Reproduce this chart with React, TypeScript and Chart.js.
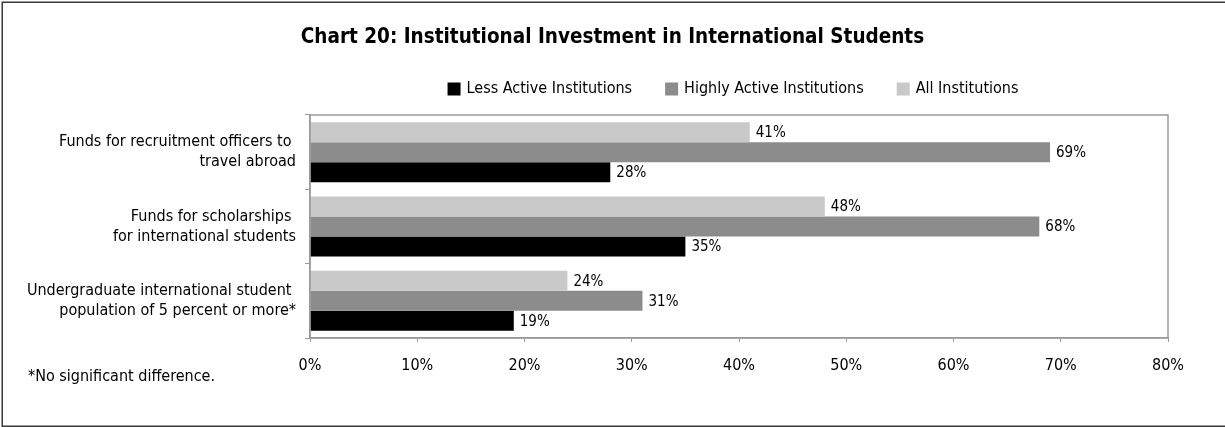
import React, { useEffect, useRef } from "react";
import { Chart, registerables } from "chart.js";

Chart.register(...registerables);

const FONT = "'Liberation Sans Narrow', 'DejaVu Sans Condensed', 'Arial Narrow', sans-serif";

const titleText = "Chart 20: Institutional Investment in International Students";
const footnote = "*No significant difference.";

const categories: string[][] = [
  ["Funds for recruitment officers to ", "travel abroad"],
  ["Funds for scholarships ", "for international students"],
  ["Undergraduate international student ", "population of 5 percent or more*"],
];

const seriesLabels = ["All Institutions", "Highly Active Institutions", "Less Active Institutions"];
const allInstitutions = [41, 48, 24];
const highlyActive = [69, 68, 31];
const lessActive = [28, 35, 19];
const seriesColors = ["#c9c9c9", "#8c8c8c", "#000000"];

const xMin = 0;
const xMax = 80;
const xStep = 10;

const frame = {
  id: "frame",
  beforeDraw(chart: any) {
    const { ctx, width, height } = chart;
    ctx.save();
    ctx.fillStyle = "#ffffff";
    ctx.fillRect(0, 0, width, height);
    ctx.restore();
  },
  afterDraw(chart: any) {
    const { ctx, width, height, chartArea } = chart;
    ctx.save();
    // outer border (right edge off canvas)
    ctx.strokeStyle = "#3a3a3a";
    ctx.lineWidth = 1.5;
    ctx.strokeRect(2.25, 2.25, width + 10, height - 3);
    // plot area border
    ctx.strokeStyle = "#9a9a9a";
    ctx.lineWidth = 1.5;
    ctx.strokeRect(chartArea.left, chartArea.top, chartArea.right - chartArea.left, chartArea.bottom - chartArea.top);
    // title, centered on the page
    ctx.fillStyle = "#000";
    ctx.font = `bold 20.5px ${FONT}`;
    ctx.textAlign = "center";
    ctx.textBaseline = "alphabetic";
    ctx.fillText(titleText, width / 2, 43);
    // footnote
    ctx.font = `16px ${FONT}`;
    ctx.textAlign = "left";
    ctx.textBaseline = "middle";
    ctx.fillText(footnote, 28, 377);
    // legend (reverse dataset order), centered over the plot area
    const items = chart.data.datasets.map((d: any) => ({ label: d.label, color: d.backgroundColor })).reverse();
    const box = 13;
    const gapText = 6;
    const gapItem = 33;
    ctx.font = `16px ${FONT}`;
    const widths = items.map((it: any) => box + gapText + ctx.measureText(it.label).width);
    const total = widths.reduce((a: number, b: number) => a + b, 0) + gapItem * (items.length - 1);
    let x = (chartArea.left + chartArea.right) / 2 - 6 - total / 2;
    const cy = 89;
    items.forEach((it: any, i: number) => {
      ctx.fillStyle = it.color;
      ctx.fillRect(x, cy - box / 2, box, box);
      ctx.fillStyle = "#000";
      ctx.fillText(it.label, x + box + gapText, cy);
      x += widths[i] + gapItem;
    });
    ctx.restore();
  },
};

const valueLabels = {
  id: "valueLabels",
  afterDatasetsDraw(chart: any) {
    const { ctx } = chart;
    ctx.save();
    ctx.font = `15px ${FONT}`;
    ctx.fillStyle = "#000";
    ctx.textAlign = "left";
    ctx.textBaseline = "middle";
    chart.data.datasets.forEach((ds: any, di: number) => {
      const meta = chart.getDatasetMeta(di);
      meta.data.forEach((el: any, i: number) => {
        ctx.fillText(`${ds.data[i]}%`, el.x + 6, el.y + 1);
      });
    });
    ctx.restore();
  },
};

export default function App() {
  const ref = useRef<HTMLCanvasElement | null>(null);
  useEffect(() => {
    document.body.style.margin = "0";
    const canvas = ref.current!;
    const chart = new Chart(canvas, {
      type: "bar",
      data: {
        labels: categories,
        datasets: [
          { label: seriesLabels[0], data: allInstitutions, backgroundColor: seriesColors[0] },
          { label: seriesLabels[1], data: highlyActive, backgroundColor: seriesColors[1] },
          { label: seriesLabels[2], data: lessActive, backgroundColor: seriesColors[2] },
        ],
      },
      options: {
        indexAxis: "y",
        responsive: false,
        animation: false,
        devicePixelRatio: 1,
        layout: { padding: { left: 10, right: 57, top: 115, bottom: 0 } },
        datasets: { bar: { categoryPercentage: 0.807, barPercentage: 1.0, borderWidth: 0 } },
        plugins: {
          legend: { display: false },
          tooltip: { enabled: false },
          title: { display: false },
        },
        scales: {
          x: {
            min: xMin,
            max: xMax,
            ticks: {
              stepSize: xStep,
              color: "#000",
              font: { family: FONT, size: 16 },
              padding: 14,
              callback: (v: any) => `${v}%`,
            },
            grid: { drawOnChartArea: false, drawTicks: true, tickLength: 4, color: "#9a9a9a" },
            border: { color: "#9a9a9a", width: 1.5 },
            afterFit: (s: any) => {
              s.height = 89;
            },
          },
          y: {
            ticks: {
              color: "#000",
              font: { family: FONT, size: 16, lineHeight: 1.25 },
              padding: 9,
            },
            grid: { drawOnChartArea: false, drawTicks: true, tickLength: 5, color: "#9a9a9a" },
            border: { color: "#9a9a9a", width: 1.5 },
            afterFit: (s: any) => {
              s.width = 300;
            },
          },
        },
      },
      plugins: [frame, valueLabels],
    });
    return () => chart.destroy();
  }, []);
  return <canvas ref={ref} width={1225} height={427} style={{ display: "block" }} />;
}
